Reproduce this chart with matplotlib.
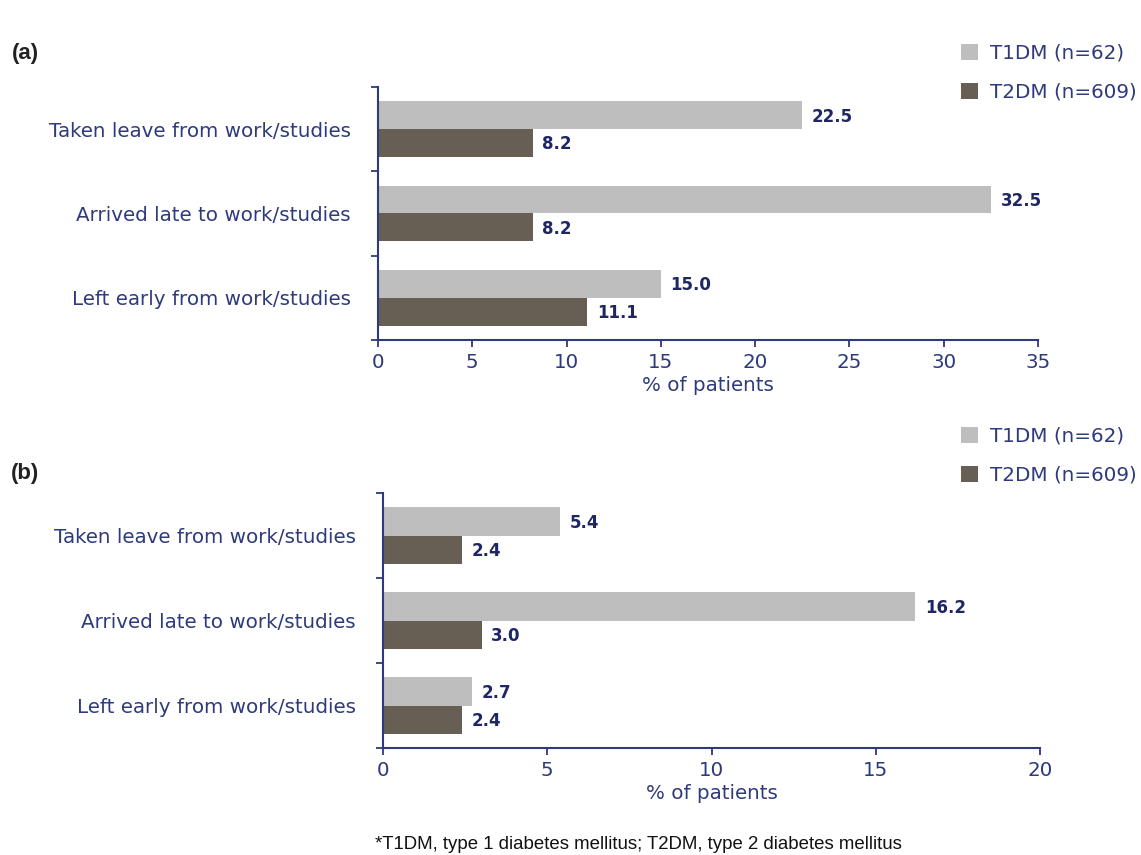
import matplotlib
matplotlib.use("Agg")
import matplotlib.pyplot as plt
import numpy as np

categories = ["Taken leave from work/studies", "Arrived late to work/studies", "Left early from work/studies"]
series_names = ["T1DM (n=62)", "T2DM (n=609)"]
a_t1 = [22.5, 32.5, 15.0]
a_t2 = [8.2, 8.2, 11.1]
b_t1 = [5.4, 16.2, 2.7]
b_t2 = [2.4, 3.0, 2.4]
a_xticks = [0, 5, 10, 15, 20, 25, 30, 35]
b_xticks = [0, 5, 10, 15, 20]
xlabel = "% of patients"
footnote = "*T1DM, type 1 diabetes mellitus; T2DM, type 2 diabetes mellitus"

LIGHT = "#BEBEBE"
DARK = "#675E54"
NAVY = "#2E3A7C"
VNAVY = "#1E2663"

W, H = 1141, 855
fig = plt.figure(figsize=(W / 100, H / 100), dpi=100)
plt.rcParams['font.family'] = ['DejaVu Sans']
FS = 14.3


def px_axes(l, t, r, b):
    return fig.add_axes([l / W, 1 - b / H, (r - l) / W, (b - t) / H])


def panel(ax, t1, t2, xticks, legend_xy, label, label_xy):
    y = np.arange(len(categories))
    h = 0.33
    b1 = ax.barh(y - h / 2, t1, height=h, color=LIGHT, label=series_names[0])
    b2 = ax.barh(y + h / 2, t2, height=h, color=DARK, label=series_names[1])
    for bars, vals in ((b1, t1), (b2, t2)):
        for rect, v in zip(bars, vals):
            ax.annotate(f"{v:.1f}", (rect.get_width(), rect.get_y() + rect.get_height() / 2),
                        xytext=(7, -1), textcoords="offset points", ha="left", va="center",
                        fontsize=12, fontweight="bold", color=VNAVY)
    ax.set_ylim(len(categories) - 0.5, -0.5)
    ax.set_xlim(xticks[0], xticks[-1])
    ax.set_xticks(xticks)
    ax.set_yticks(np.arange(len(categories) + 1) - 0.5)
    ax.set_yticklabels([])
    ax.set_yticks(y, minor=True)
    ax.set_yticklabels(categories, minor=True)
    ax.tick_params(axis="y", which="minor", length=0, pad=19.5, labelsize=FS, labelcolor=NAVY)
    ax.tick_params(axis="y", which="major", length=5, width=1.3, color=NAVY)
    ax.tick_params(axis="x", length=5, width=1.3, color=NAVY, labelsize=FS, labelcolor=NAVY, pad=4)
    for s in ("top", "right"):
        ax.spines[s].set_visible(False)
    for s in ("left", "bottom"):
        ax.spines[s].set_color(NAVY)
        ax.spines[s].set_linewidth(1.5)
    ax.set_xlabel(xlabel, fontsize=FS, color=NAVY, labelpad=3)
    fig.legend(handles=[b1, b2], loc="upper left",
               bbox_to_anchor=(legend_xy[0] / W, 1 - legend_xy[1] / H),
               frameon=False, fontsize=FS, handlelength=0.85, handleheight=0.85,
               handletextpad=0.6, labelspacing=1.0, labelcolor=NAVY, borderpad=0)
    fig.text(label_xy[0] / W, 1 - label_xy[1] / H, label, fontsize=16, fontweight="bold",
             family=["Liberation Sans", "DejaVu Sans"], ha="left", va="center", color="#222222")


ax_a = px_axes(378, 87, 1038, 340)
panel(ax_a, a_t1, a_t2, a_xticks, (951, 34), "(a)", (12, 53))
ax_b = px_axes(383, 493, 1040, 748)
panel(ax_b, b_t1, b_t2, b_xticks, (951, 417), "(b)", (11, 473))

fig.text(375 / W, 1 - 844 / H, footnote, fontsize=13.4, family=["Liberation Sans", "DejaVu Sans"],
         ha="left", va="center", color="#111111")

fig.savefig("out.png", dpi=100)
